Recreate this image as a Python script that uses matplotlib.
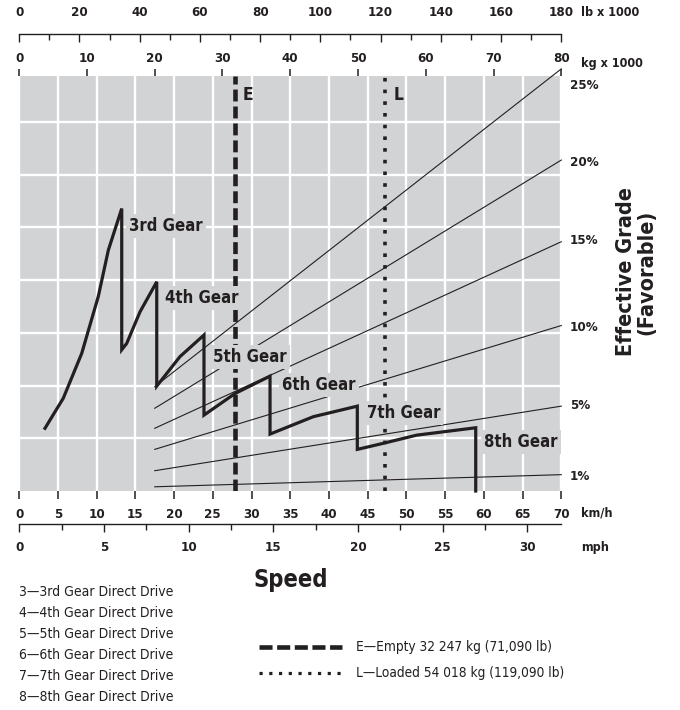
import matplotlib
matplotlib.use('Agg')
import matplotlib.pyplot as plt
from matplotlib.lines import Line2D
from matplotlib.transforms import blended_transform_factory
from matplotlib.ticker import MultipleLocator

plt.rcParams['font.family'] = ['DejaVu Sans']
plt.rcParams['font.stretch'] = 'condensed'

# ---------------- data ----------------
gear_names = ['3rd Gear', '4th Gear', '5th Gear', '6th Gear', '7th Gear', '8th Gear']
curve_kmh = [3.33, 5.69, 8.07, 10.21, 11.51, 13.24, 13.24, 13.88, 15.6, 17.76,
             17.76, 20.76, 23.86, 23.86, 27.87, 32.39, 32.39, 37.98, 43.66,
             43.66, 46.59, 51.33, 58.95, 58.95]
curve_val = [1.19, 1.76, 2.61, 3.69, 4.57, 5.36, 2.68, 2.80, 3.40, 3.97,
             1.99, 2.55, 2.96, 1.44, 1.85, 2.18, 1.08, 1.41, 1.61,
             0.79, 0.89, 1.06, 1.20, 0.0]
gear_label_kmh = [14.18, 18.83, 25.03, 33.94, 44.91, 60.02]
gear_label_val = [5.03, 3.66, 2.54, 2.01, 1.48, 0.93]

grade_labels = ['25%', '20%', '15%', '10%', '5%', '1%']
grade_start = [1.98, 1.57, 1.19, 0.79, 0.385, 0.08]
grade_end = [8.01, 6.28, 4.73, 3.14, 1.61, 0.31]
grade_kmh = [17.5, 70]
grade_label_val = [7.70, 6.24, 4.76, 3.11, 1.63, 0.27]

kmh_ticks = list(range(0, 75, 5))
mph_ticks = list(range(0, 35, 5))
kg_ticks = list(range(0, 90, 10))
lb_ticks = list(range(0, 200, 20))

empty_kg = 31.8
loaded_kg = 54.018
empty_text = 'E—Empty 32 247 kg (71,090 lb)'
loaded_text = 'L—Loaded 54 018 kg (119,090 lb)'
legend_gears = ['3—3rd Gear Direct Drive', '4—4th Gear Direct Drive',
                '5—5th Gear Direct Drive', '6—6th Gear Direct Drive',
                '7—7th Gear Direct Drive', '8—8th Gear Direct Drive']

# ---------------- layout helpers ----------------
W, H = 680, 710
DPI = 100
fig = plt.figure(figsize=(W / DPI, H / DPI), dpi=DPI)

def fx(px):
    return px / W

def fy(py):
    return 1 - py / H

INK = '#231f20'
GRAY = '#d1d3d4'
L, R, T, B = 19.2, 561.3, 76, 491

ax = fig.add_axes([fx(L), fy(B), (R - L) / W, (B - T) / H])
ax.set_facecolor(GRAY)
ax.set_xlim(0, 70)
ax.set_ylim(0, (B - T) / 52.7)
for s in ax.spines.values():
    s.set_visible(False)

# grid
ax.set_xticks(kmh_ticks)
ax.set_yticks(range(1, 8))
ax.grid(True, color='white', lw=1.7, zorder=0)
ax.set_axisbelow(True)
ax.tick_params(axis='y', left=False, labelleft=False)
ax.tick_params(axis='x', direction='out', length=6, width=1.1, color=INK,
               pad=6, labelsize=9.5, labelcolor=INK)
for t in ax.get_xticklabels():
    t.set_fontweight('bold')

# grade lines
for gs, ge in zip(grade_start, grade_end):
    ax.plot(grade_kmh, [gs, ge], color=INK, lw=0.8, zorder=2, clip_on=False)

# kg axis (top)
axk = ax.twiny()
axk.set_xlim(0, 80)
axk.set_xticks(kg_ticks)
for s in axk.spines.values():
    s.set_visible(False)
axk.tick_params(axis='x', direction='out', length=5, width=1.1, color=INK,
                pad=3, labelsize=9.5, labelcolor=INK)
for t in axk.get_xticklabels():
    t.set_fontweight('bold')

# E and L vertical lines, positioned on kg scale
tr = blended_transform_factory(axk.transData, ax.transAxes)
ax.plot([empty_kg, empty_kg], [0, 1], transform=tr, color=INK, lw=3.3,
        dashes=(2.6, 1.1), zorder=3, dash_capstyle='butt')
ax.plot([loaded_kg, loaded_kg], [0, 1], transform=tr, color=INK, lw=2.6,
        dashes=(1, 2.24), zorder=3, dash_capstyle='butt')
ax.text(29.57, 7.51, 'E', fontsize=12.5, fontweight='bold', color=INK,
        ha='center', va='center', zorder=5)
ax.text(49.05, 7.51, 'L', fontsize=12.5, fontweight='bold', color=INK,
        ha='center', va='center', zorder=5)

# gear curve
ax.plot(curve_kmh, curve_val, color=INK, lw=2.3, zorder=6,
        solid_joinstyle='miter', clip_on=False)
for name, gx, gy in zip(gear_names, gear_label_kmh, gear_label_val):
    ax.text(gx, gy, name, fontsize=12, fontweight='bold', color=INK,
            ha='left', va='center', zorder=5,
            bbox=dict(boxstyle='square,pad=0.18', fc=GRAY, ec='none'))

# grade labels
for lab, gy in zip(grade_labels, grade_label_val):
    ax.text(71.1, gy, lab, fontsize=9.5, fontweight='bold', color=INK,
            ha='left', va='center', clip_on=False)

# lb axis (top)
axl = fig.add_axes([fx(L), fy(34), (R - L) / W, 1e-5])
axl.set_xlim(0, 180)
axl.set_xticks(lb_ticks)
axl.xaxis.set_minor_locator(MultipleLocator(10))
axl.set_yticks([])
axl.patch.set_visible(False)
for k in ['top', 'left', 'right']:
    axl.spines[k].set_visible(False)
axl.spines['bottom'].set_color(INK)
axl.spines['bottom'].set_linewidth(1.0)
axl.tick_params(axis='x', which='both', direction='out', bottom=True, top=False,
                labelbottom=False, labeltop=True, color=INK, width=1.0,
                labelsize=9.5, labelcolor=INK, pad=4.8)
axl.tick_params(axis='x', which='major', length=6)
axl.tick_params(axis='x', which='minor', length=4)
for t in axl.get_xticklabels():
    t.set_fontweight('bold')

# mph axis (bottom)
axm = fig.add_axes([fx(L), fy(524), (R - L) / W, 1e-5])
axm.set_xlim(0, 32)
axm.set_xticks(mph_ticks)
axm.xaxis.set_minor_locator(MultipleLocator(2.5))
axm.set_yticks([])
axm.patch.set_visible(False)
for k in ['top', 'left', 'right']:
    axm.spines[k].set_visible(False)
axm.spines['bottom'].set_color(INK)
axm.spines['bottom'].set_linewidth(1.0)
axm.tick_params(axis='x', which='both', direction='out', color=INK, width=1.0,
                labelsize=9.5, labelcolor=INK, pad=6)
axm.tick_params(axis='x', which='major', length=6)
axm.tick_params(axis='x', which='minor', length=4)
for t in axm.get_xticklabels():
    t.set_fontweight('bold')

# unit labels
for txt, py in [('lb x 1000', 13), ('kg x 1000', 63), ('km/h', 513), ('mph', 547)]:
    fig.text(fx(581), fy(py), txt, fontsize=9, fontweight='bold', color=INK,
             ha='left', va='center')

# axis titles
fig.text(fx(291), fy(580), 'Speed', fontsize=17, fontweight='bold', color=INK,
         ha='center', va='center')
fig.text(fx(636), fy(272), 'Effective Grade\n(Favorable)', fontsize=15.5,
         fontweight='bold', color=INK, ha='center', va='center', rotation=90,
         linespacing=1.05)

# gear legend list
for i, txt in enumerate(legend_gears):
    fig.text(fx(19), fy(592 + 21 * i), txt, fontsize=10, color=INK,
             ha='left', va='center')

# E / L legend
fig.add_artist(Line2D([fx(259), fx(342)], [fy(647), fy(647)], color=INK, lw=3.3,
                      dashes=(2.85, 1.0), dash_capstyle='butt'))
fig.add_artist(Line2D([fx(259), fx(344)], [fy(673), fy(673)], color=INK, lw=2.3,
                      dashes=(1, 2.05), dash_capstyle='butt'))
fig.text(fx(356), fy(647), empty_text, fontsize=9.8, color=INK, ha='left', va='center')
fig.text(fx(356), fy(673), loaded_text, fontsize=9.8, color=INK, ha='left', va='center')

fig.savefig('out.png', dpi=DPI)
